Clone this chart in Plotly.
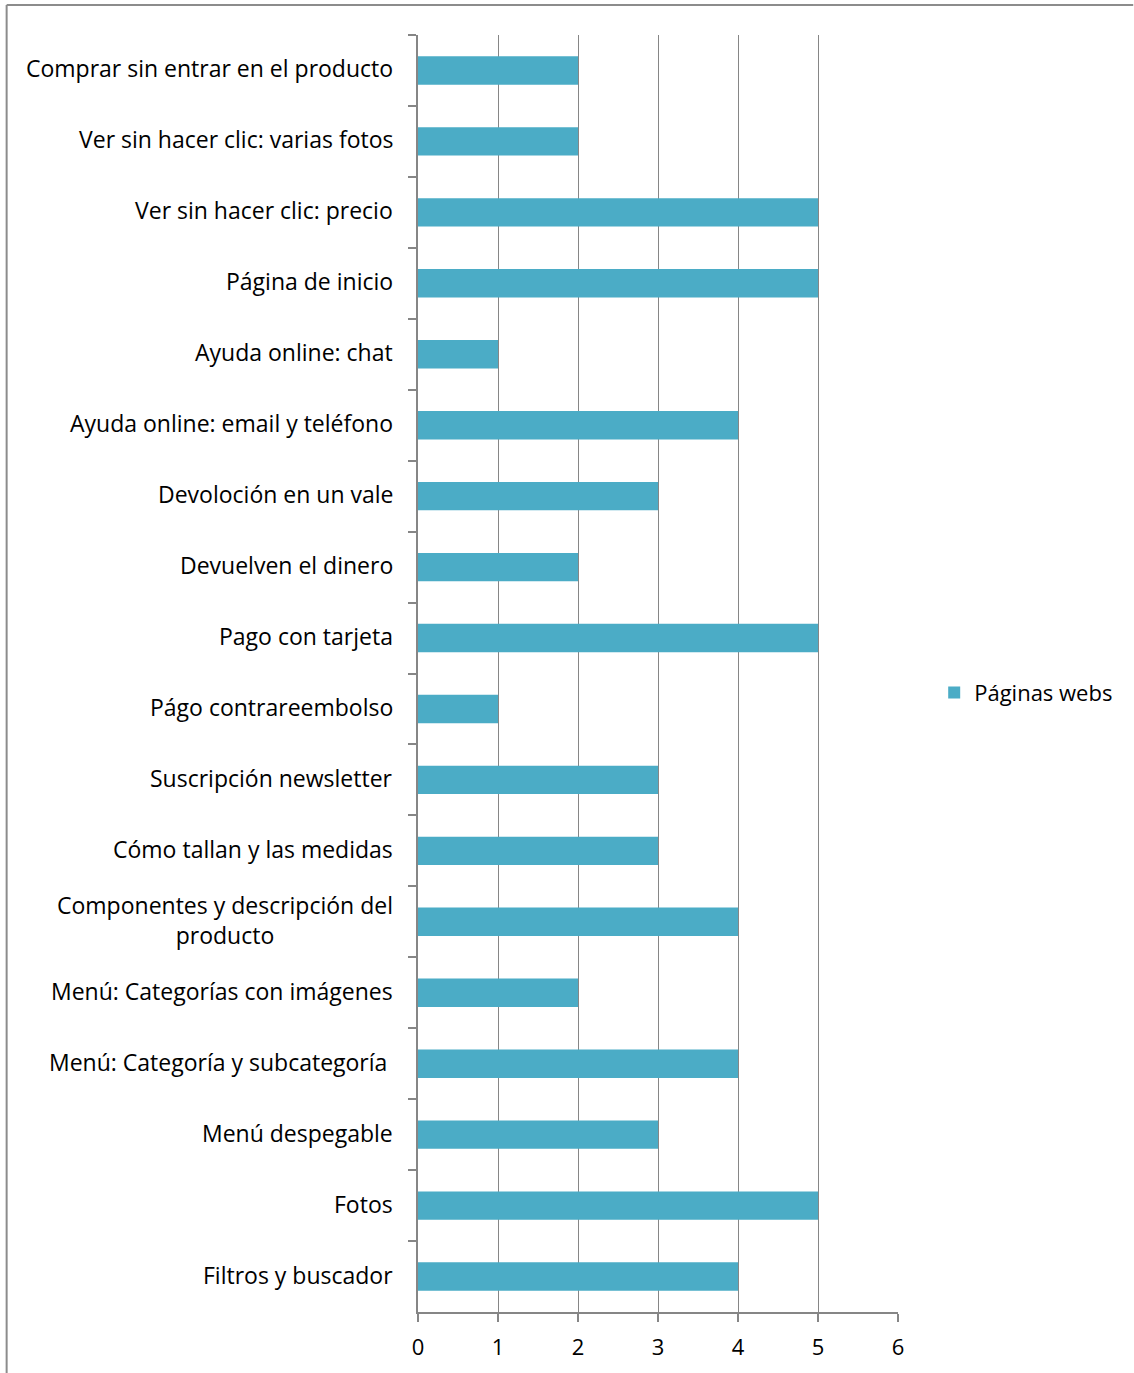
import plotly.graph_objects as go

# Features listed top to bottom, with how many web pages show each one
categorias = [
    "Comprar sin entrar en el producto",
    "Ver sin hacer clic: varias fotos",
    "Ver sin hacer clic: precio",
    "Página de inicio",
    "Ayuda online: chat",
    "Ayuda online: email y teléfono",
    "Devoloción en un vale",
    "Devuelven el dinero",
    "Pago con tarjeta",
    "Págo contrareembolso",
    "Suscripción newsletter",
    "Cómo tallan y las medidas",
    "Componentes y descripción del<br>producto",
    "Menú: Categorías con imágenes",
    "Menú: Categoría y subcategoría\u00a0",
    "Menú despegable",
    "Fotos",
    "Filtros y buscador",
]
paginas_webs = [2, 2, 5, 5, 1, 4, 3, 2, 5, 1, 3, 3, 4, 2, 4, 3, 5, 4]
ticks_x = [0, 1, 2, 3, 4, 5, 6]

BAR = "#4BACC6"
GRID = "#868686"
FONT = "Open Sans"
FS = 23

fig = go.Figure()
fig.add_trace(go.Bar(
    x=paginas_webs,
    y=categorias,
    orientation="h",
    name="Páginas webs",
    marker=dict(color=BAR, line=dict(width=0)),
))

# Category labels as annotations so wrapped labels stay centred
for cat in categorias:
    fig.add_annotation(
        x=-0.048, xref="paper", y=cat, yref="y", yshift=2,
        text=cat, showarrow=False, xanchor="right", yanchor="middle",
        align="center", font=dict(family=FONT, size=FS, color="#000000"),
    )

fig.update_layout(
    width=1134, height=1373,
    margin=dict(l=418, r=236, t=35, b=61),
    paper_bgcolor="white", plot_bgcolor="white",
    bargap=0.6,
    font=dict(family=FONT, size=FS, color="#000000"),
    showlegend=True,
    legend=dict(x=1.0754, y=0.485, xanchor="left", yanchor="middle",
                font=dict(family=FONT, size=FS - 1, color="#000000"),
                bgcolor="rgba(0,0,0,0)"),
    xaxis=dict(
        range=[0, 6], tickvals=ticks_x, showgrid=True, gridcolor=GRID, gridwidth=1,
        zeroline=False, showline=True, linecolor=GRID, linewidth=1.5,
        ticks="outside", ticklen=8, tickcolor=GRID, tickwidth=1.5,
        ticklabelstandoff=7,
        tickfont=dict(family=FONT, size=FS - 1, color="#000000"),
    ),
    yaxis=dict(
        type="category", categoryorder="array", categoryarray=categorias,
        autorange="reversed", showticklabels=False, showgrid=False,
        zeroline=False, showline=True, linecolor=GRID, linewidth=1.5,
        ticks="outside", ticklen=8, tickcolor=GRID, tickwidth=1.5,
        tickson="boundaries",
    ),
    shapes=[
        dict(type="line", xref="paper", yref="paper",
             x0=-0.857, x1=-0.857, y0=1.0235, y1=-0.06,
             line=dict(color="#8c8c8c", width=2)),
        dict(type="line", xref="paper", yref="paper",
             x0=-0.857, x1=1.49, y0=1.0235, y1=1.0235,
             line=dict(color="#8c8c8c", width=2)),
    ],
)

fig.write_html("out.html")
